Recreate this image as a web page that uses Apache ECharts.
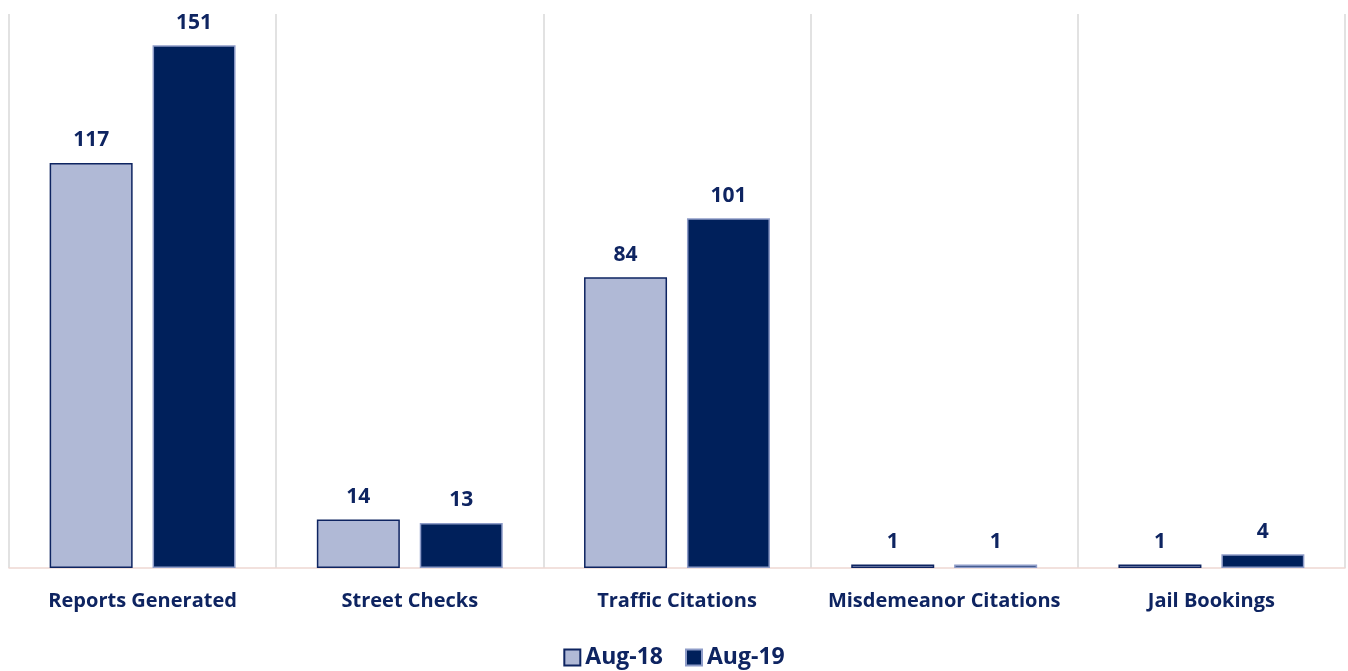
<!DOCTYPE html>
<html><head><meta charset="utf-8">
<script src="https://cdn.jsdelivr.net/npm/echarts@6/dist/echarts.min.js"></script>
<style>html,body{margin:0;padding:0;background:#fff}#c{width:1348px;height:671px}</style>
</head><body><div id="c"></div>
<script>
const categories = ['Reports Generated', 'Street Checks', 'Traffic Citations', 'Misdemeanor Citations', 'Jail Bookings'];
const aug18 = [117, 14, 84, 1, 1];
const aug19 = [151, 13, 101, 1, 4];
const seriesNames = ['Aug-18', 'Aug-19'];

const FONT = '"Open Sans", "Noto Sans", sans-serif';
const NAVY = '#0E2461';
const chart = echarts.init(document.getElementById('c'));
const labelStyle = {show: true, position: 'top', distance: 12, color: NAVY, fontFamily: FONT, fontWeight: 'bold', fontSize: 21};
chart.setOption({
  animation: false,
  grid: {left: 9, right: 3, top: 14, bottom: 103, containLabel: false},
  legend: {
    bottom: -3, left: 'center', itemWidth: 16, itemHeight: 16, itemGap: 22, icon: 'rect',
    textStyle: {color: NAVY, fontFamily: FONT, fontWeight: 'bold', fontSize: 23, padding: [0, 0, 0, 0]},
    data: seriesNames
  },
  xAxis: {
    type: 'category', data: categories,
    axisLine: {show: true, lineStyle: {color: '#EED8D2', width: 1.5}},
    axisTick: {show: false},
    splitLine: {show: true, lineStyle: {color: '#D9D9D9', width: 1.5}},
    axisLabel: {color: NAVY, fontFamily: FONT, fontWeight: 'bold', fontSize: 20, margin: 23, interval: 0}
  },
  yAxis: {type: 'value', min: 0, max: 160, show: false, splitLine: {show: false}},
  series: [
    {name: seriesNames[0], type: 'bar', data: aug18, barWidth: 83, barGap: '24%',
     itemStyle: {color: '#B0B9D6', borderColor: '#0E2461', borderWidth: 1.5},
     label: labelStyle},
    {name: seriesNames[1], type: 'bar', data: aug19, barWidth: 83,
     itemStyle: {color: '#00205B', borderColor: '#8E9CC8', borderWidth: 1.5},
     label: labelStyle}
  ]
});
</script></body></html>
